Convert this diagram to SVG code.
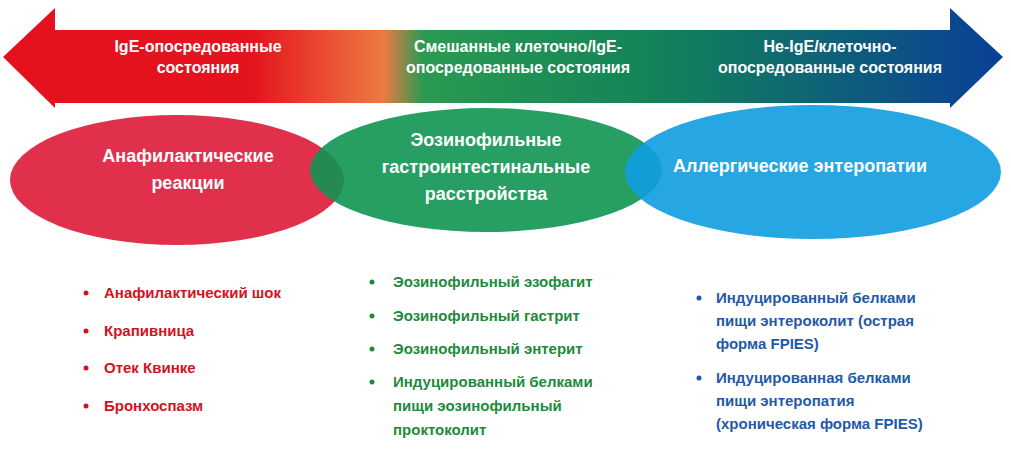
<svg xmlns="http://www.w3.org/2000/svg" width="1011" height="465" viewBox="0 0 1011 465">
<defs>
<linearGradient id="g" x1="0" x2="1" y1="0" y2="0">
<stop offset="0" stop-color="#e4101e"/><stop offset="0.25" stop-color="#e4141e"/><stop offset="0.38" stop-color="#ee7a40"/><stop offset="0.42" stop-color="#2a9a52"/><stop offset="0.65" stop-color="#128458"/><stop offset="1" stop-color="#0a3f96"/>
</linearGradient>
<style>
text{font-family:"Liberation Sans",Arial,sans-serif;font-weight:bold}
.w{fill:#fff;font-size:16px}
.h{fill:#fff;font-size:18px}
.r{fill:#d4121f;font-size:15px}
.gr{fill:#1d8a3c;font-size:15px}
.b{fill:#1f5aa8;font-size:15px}
</style>
</defs>
<g id="arrow">
<path d="M3,57 L55,8 L55,30 L950,30 L950,8 L1003,57 L950,108 L950,103 L55,103 L55,108 Z" fill="url(#g)"/>
<text class="w" text-anchor="middle" x="198" y="52">IgE-опосредованные</text>
<text class="w" text-anchor="middle" x="198" y="73">состояния</text>
<text class="w" text-anchor="middle" x="518" y="52">Смешанные клеточно/IgE-</text>
<text class="w" text-anchor="middle" x="518" y="73">опосредованные состояния</text>
<text class="w" text-anchor="middle" x="830" y="52">Не-IgE/клеточно-</text>
<text class="w" text-anchor="middle" x="830" y="73">опосредованные состояния</text>
</g>
<g id="n1"><ellipse cx="177" cy="180" rx="167" ry="65" fill="#e1304c"/>
<text class="h" text-anchor="middle" x="188" y="162">Анафилактические</text>
<text class="h" text-anchor="middle" x="188" y="189">реакции</text></g>
<g id="n2"><ellipse cx="486" cy="170" rx="176" ry="62" fill="#0f9552" opacity="0.9"/>
<text class="h" text-anchor="middle" x="486" y="146">Эозинофильные</text>
<text class="h" text-anchor="middle" x="486" y="173">гастроинтестинальные</text>
<text class="h" text-anchor="middle" x="486" y="200">расстройства</text></g>
<g id="n3"><ellipse cx="813" cy="172" rx="188" ry="67" fill="#0e9de0" opacity="0.9"/>
<text class="h" text-anchor="middle" x="800" y="172">Аллергические энтеропатии</text></g>
<g id="list1">
<circle cx="86" cy="293" r="2.5" fill="#d4121f"/><text class="r" x="104" y="298">Анафилактический шок</text>
<circle cx="86" cy="331" r="2.5" fill="#d4121f"/><text class="r" x="104" y="336">Крапивница</text>
<circle cx="86" cy="368" r="2.5" fill="#d4121f"/><text class="r" x="104" y="373">Отек Квинке</text>
<circle cx="86" cy="406" r="2.5" fill="#d4121f"/><text class="r" x="104" y="411">Бронхоспазм</text>
</g>
<g id="list2">
<circle cx="372" cy="282" r="2.5" fill="#1d8a3c"/><text class="gr" x="393" y="287">Эозинофильный эзофагит</text>
<circle cx="372" cy="316" r="2.5" fill="#1d8a3c"/><text class="gr" x="393" y="321">Эозинофильный гастрит</text>
<circle cx="372" cy="349" r="2.5" fill="#1d8a3c"/><text class="gr" x="393" y="354">Эозинофильный энтерит</text>
<circle cx="372" cy="382" r="2.5" fill="#1d8a3c"/><text class="gr" x="393" y="387">Индуцированный белками</text>
<text class="gr" x="393" y="411">пищи эозинофильный</text>
<text class="gr" x="393" y="435">проктоколит</text>
</g>
<g id="list3">
<circle cx="699" cy="298" r="2.5" fill="#1f5aa8"/><text class="b" x="716" y="303">Индуцированный белками</text>
<text class="b" x="716" y="326">пищи энтероколит (острая</text>
<text class="b" x="716" y="349">форма FPIES)</text>
<circle cx="699" cy="378" r="2.5" fill="#1f5aa8"/><text class="b" x="716" y="383">Индуцированная белками</text>
<text class="b" x="716" y="406">пищи энтеропатия</text>
<text class="b" x="716" y="429">(хроническая форма FPIES)</text>
</g>
</svg>
